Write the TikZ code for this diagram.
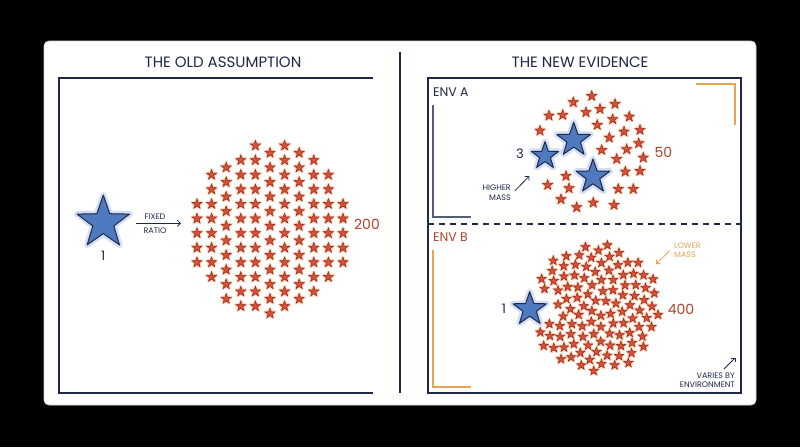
\documentclass[tikz,border=0pt]{standalone}
\usepackage{fontspec}
\setmainfont{Poppins}
\usetikzlibrary{shapes.geometric,arrows.meta}
\definecolor{navy}{RGB}{30,40,72}
\definecolor{panel}{RGB}{205,212,225}
\definecolor{sblue}{RGB}{80,122,192}
\definecolor{sred}{RGB}{214,80,60}
\definecolor{sredd}{RGB}{150,42,28}
\definecolor{glowo}{RGB}{248,176,118}
\definecolor{glowb}{RGB}{172,196,236}
\definecolor{brko}{RGB}{228,166,84}
\definecolor{txtred}{RGB}{178,66,44}
\tikzset{
	every node/.style = { inner sep=0pt },
	redstar/.style = { star, star points=5, star point ratio=2.4, minimum size=10.5pt, fill=sred, draw=sredd, line width=.5pt },
	redglow/.style = { redstar, draw=glowo, fill=glowo, line width=3pt, line join=round, opacity=.45 },
	smallstar/.style = { redstar, minimum size=9.6pt },
	smallglow/.style = { redglow, minimum size=9.6pt },
	bluestar/.style = { star, star points=5, star point ratio=2.5, minimum size=#1, fill=sblue, draw=navy, line width=1pt, line join=round },
	blueglow/.style = { bluestar=#1, draw=glowb, fill=glowb, line width=6pt, opacity=.55 },
	frame/.style = { draw=navy, line width=1.3pt },
	brk/.style = { line width=1.4pt },
	title/.style = { text=navy, font=\fontsize{15}{17}\selectfont },
	num/.style = { font=\fontsize{14}{16}\selectfont },
	env/.style = { font=\fontsize{12.5}{14}\selectfont, anchor=west },
	note/.style = { text=navy, font=\fontsize{8}{9.6}\selectfont, align=center },
	tip/.style = { -{Straight Barb[length=3pt,width=6pt]}, line width=.8pt },
}
% grid cloud, old assumption
\newcommand{\oldcloud}[2]{%
	\foreach \i/\s in {-5/0,-4/0,-3/1,-2/0,-1/0,0/1,1/0,2/1,3/0,4/0,5/0}{%
		\foreach \j in {-5,...,8}{%
			\pgfmathsetmacro\cx{270+14.6*\i}%
			\pgfmathsetmacro\cy{204+14.6*\j+7.3*\s}%
			\pgfmathtruncatemacro\ok{((\cx-270)/80)^2+((\cy-229)/86)^2<=1}%
			\ifnum\ok=1 \node[#1] (#2\i\j) at (\cx,\cy) {};\fi
		}}}
% scattered cloud, env A
\newcommand{\acloud}[2]{%
	\foreach \cx/\cy [count=\k] in {573.3/102.3,591.7/96,615/104,549/115.7,562.7/115,586/112.3,600/109,612.7/119.3,629.3/116.7,540/130.7,597.3/125,624/131.7,640/130,609.3/137.7,638.7/143.3,626.7/149.3,643.3/157.7,601.7/150,616.7/159,566/176,547.7/185,569/188.3,625.3/171.7,640/171,618.3/189,633.3/189,561/199.3,576.7/207.3,593.3/202.7,614/205}{%
		\node[#1] (#2\k) at (\cx,\cy) {};}}
% dense cloud, env B
\newcommand{\bcloud}[2]{%
	\foreach \k in {1,...,115}{%
		\pgfmathsetmacro\r{65*sqrt((\k-0.5)/115)}%
		\pgfmathsetmacro\a{360*mod(\k*0.381966,1)}%
		\pgfmathsetmacro\cx{595+\r*cos(\a)}%
		\pgfmathsetmacro\cy{308+\r*sin(\a)}%
		\pgfmathtruncatemacro\ok{((\cx-529.7)/10)^2+((\cy-309)/10)^2>=5.76}%
		\ifnum\ok=1 \node[#1] (#2\k) at (\cx,\cy) {};\fi}}

\begin{document}
\begin{tikzpicture}[x=1pt,y=-1pt]
\useasboundingbox (0,0) rectangle (800,447);
\fill[black] (0,0) rectangle (800,447);
\path[fill=white,draw=panel,line width=.8pt,rounded corners=5pt] (44,41) rectangle (756,405);

\node (oldt) [title] at (223,62) {THE OLD ASSUMPTION};
\node (newt) [title] at (580,62) {THE NEW EVIDENCE};
\draw[frame] (400,52) -- (400,393);
\draw[frame] (373,78) -- (59,78) -- (59,393) -- (373,393);
\draw[frame] (428,78) rectangle (741,393);
\draw[frame,dash pattern=on 6pt off 5pt] (428,224) -- (741,224);

% old assumption
\oldcloud{redglow}{og}
\oldcloud{redstar}{o}
\node (big) [blueglow=55pt] at (103.3,222.6) {};
\node (one) [bluestar=55pt] at (103.3,222.6) {};
\node (lone) [num,text=navy,font=\fontsize{13}{15}\selectfont] at (103.3,256) {1};
\node (fixed) [note] at (155,216.7) {FIXED};
\node (ratio) [note] at (155,230.7) {RATIO};
\coordinate (fr0) at (136,223.3);
\coordinate (fr1) at (181,223.3);
\draw[tip,navy] (fr0) -- (fr1);
\node (n200) [num,text=txtred] at (367,224) {200};

% env A
\node (enva) [env,text=navy] at (433,92) {ENV A};
\draw[brk,draw=navy!75] (433,105) -- (433,217) -- (471,217);
\draw[brk,draw=brko] (696,84) -- (735,84) -- (735,125);
\acloud{redglow}{ag}
\acloud{redstar}{a}
\node (ga1) [blueglow=28.4pt] at (545,155.9) {};
\node (ga2) [blueglow=35.4pt] at (573.7,140) {};
\node (ga3) [blueglow=35.4pt] at (593,176.7) {};
\node (ba1) [bluestar=28.4pt] at (545,155.9) {};
\node (ba2) [bluestar=35.4pt] at (573.7,140) {};
\node (ba3) [bluestar=35.4pt] at (593,176.7) {};
\node (n3) [num,text=navy,font=\fontsize{13}{15}\selectfont] at (520,154) {3};
\node (n50) [num,text=txtred] at (663.3,152.3) {50};
\node (hm) [note,anchor=east,align=right] at (511,192.5) {HIGHER\\MASS};
\coordinate (hm0) at (515,190.7);
\coordinate (hm1) at (529.3,176);
\draw[tip,navy] (hm0) -- (hm1);

% env B
\node (envb) [env,text=txtred] at (433,237) {ENV B};
\draw[brk,draw=brko] (433,250) -- (433,387) -- (471,387);
\bcloud{smallglow}{bg}
\bcloud{smallstar}{b}
\node (gb1) [blueglow=35pt] at (529.7,309.2) {};
\node (bb1) [bluestar=35pt] at (529.7,309.2) {};
\node (nb1) [num,text=navy,font=\fontsize{13}{15}\selectfont] at (504,309) {1};
\node (n400) [num,text=txtred] at (681,309) {400};
\node (lm) [note,text=brko,anchor=west,align=left] at (674,250.2) {LOWER\\MASS};
\coordinate (lm0) at (669.3,251);
\coordinate (lm1) at (656,264);
\draw[tip,brko] (lm0) -- (lm1);
\node (ve) [note,anchor=east,align=right] at (735,380) {VARIES BY\\ENVIRONMENT};
\coordinate (ve0) at (724,369);
\coordinate (ve1) at (735.3,357.7);
\draw[tip,navy] (ve0) -- (ve1);
\end{tikzpicture}
\end{document}
